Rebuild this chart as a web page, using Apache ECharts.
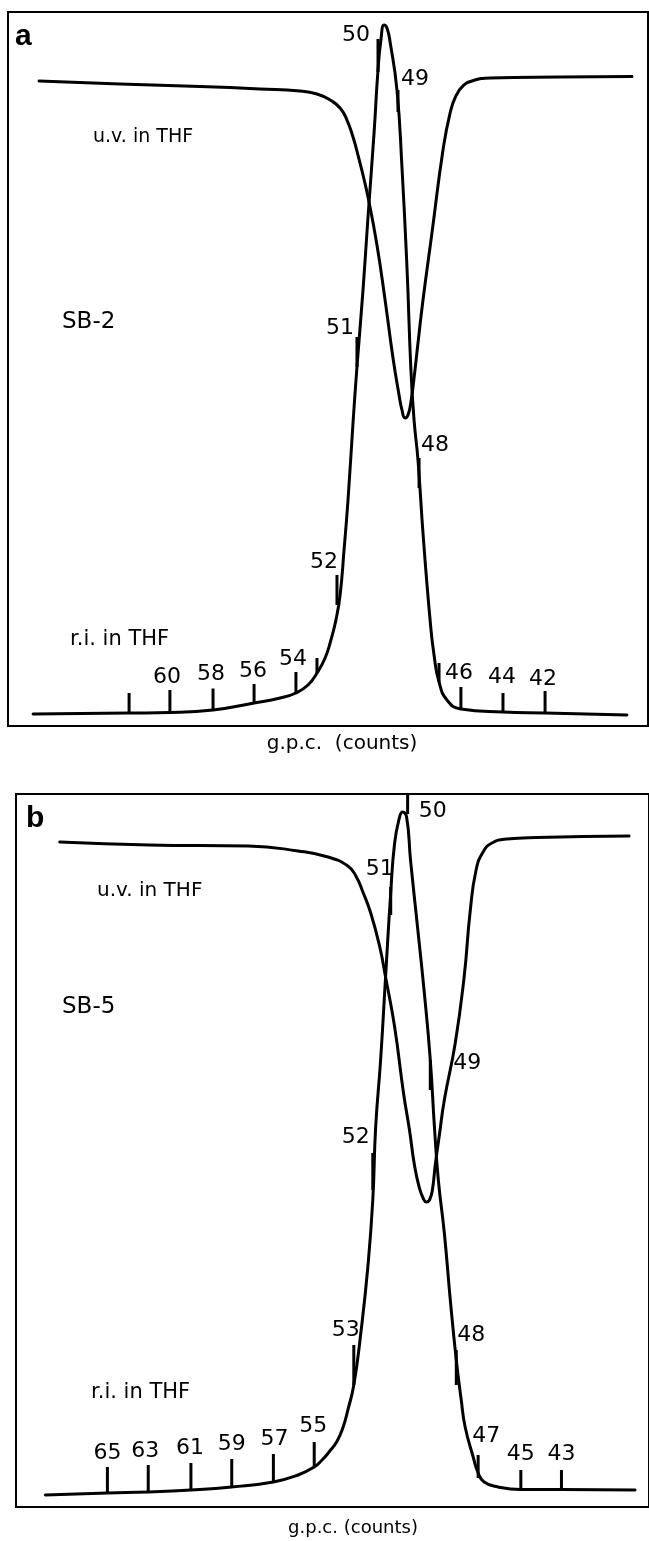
<!DOCTYPE html>
<html>
<head>
<meta charset="utf-8">
<script src="https://cdn.jsdelivr.net/npm/echarts@6/dist/echarts.min.js"></script>
<style>
html,body{margin:0;padding:0;background:#fff;}
#chart{width:649px;height:1541px;}
</style>
</head>
<body>
<div id="chart"></div>
<script>
// ---------- Panel a (SB-2) ----------
// [g.p.c. counts, response (arbitrary units)]
var riA = [[66.56,1.68],[61.95,1.82],[59.99,1.89],[57.92,2.24],[55.95,3.22],[54.70,3.92],[53.94,4.62],[53.36,5.74],[52.93,7.42],[52.54,9.52],[52.26,12.04],[52.02,14.85],[51.82,18.35],[51.63,24.65],[51.44,31.65],[51.20,42.44],[51.01,50.28],[50.72,61.06],[50.48,71.29],[50.19,83.05],[50.00,91.88],[49.86,96.08],[49.71,98.18],[49.57,97.76],[49.42,95.80],[49.09,89.08],[48.85,78.29],[48.61,64.29],[48.42,49.86],[48.27,42.86],[48.08,37.25],[47.84,27.03],[47.50,14.85],[47.31,9.94],[47.07,6.16],[46.69,3.64],[46.02,2.38],[44.00,1.96],[41.98,1.82],[38.05,1.54]];
var uvA = [[66.27,90.34],[62.39,89.92],[58.55,89.57],[55.67,89.22],[53.75,88.94],[52.93,88.52],[52.30,87.68],[51.82,86.55],[51.49,84.87],[51.20,82.49],[50.96,79.97],[50.72,77.17],[50.48,74.09],[50.05,67.37],[49.66,59.66],[49.28,51.54],[48.99,46.36],[48.85,44.26],[48.70,43.14],[48.56,43.56],[48.42,45.38],[48.27,48.74],[48.08,53.64],[47.84,59.66],[47.41,69.05],[46.88,80.67],[46.54,85.85],[46.26,88.24],[45.92,89.64],[45.49,90.34],[44.62,90.76],[41.26,90.90],[37.81,90.97]];
// count marks: [position (counts), response at curve, response at mark top]
var marksA = [[61.95,1.96,4.62],[59.99,1.89,5.04],[57.92,2.24,5.25],[55.95,3.22,5.88],[53.94,4.62,7.56],[52.93,7.42,9.52],[51.97,16.95,21.15],[51.01,50.28,54.48],[50.00,91.60,96.22],[49.04,86.00,89.08],[48.03,33.33,37.54],[47.07,6.16,8.82],[46.02,2.38,5.46],[44.00,1.96,4.62],[41.98,1.82,4.90]];
var markLabelsA = ['', '60', '58', '56', '54', '', '52', '51', '50', '49', '48', '', '46', '44', '42'];

// ---------- Panel b (SB-5) ----------
var riB = [[68.03,1.68],[65.02,1.96],[63.04,2.10],[60.97,2.38],[58.99,2.81],[56.97,3.51],[55.77,4.49],[54.99,5.61],[54.61,6.59],[54.27,7.71],[53.89,9.20],[53.60,11.10],[53.36,13.60],[53.07,17.11],[52.73,24.40],[52.39,33.66],[52.15,43.06],[52.01,53.30],[51.77,62.69],[51.53,74.33],[51.28,86.12],[51.09,93.13],[50.85,96.77],[50.71,97.48],[50.51,96.77],[50.32,90.74],[49.98,81.35],[49.65,72.09],[49.36,62.69],[49.16,53.30],[48.97,45.86],[48.68,38.43],[48.39,29.03],[48.10,20.62],[47.86,15.01],[47.67,11.22],[47.28,7.01],[47.04,4.77],[46.75,3.51],[46.08,2.81],[44.97,2.45],[43.00,2.45],[39.43,2.38]];
var uvB = [[67.33,93.27],[63.00,92.85],[58.18,92.71],[55.77,92.01],[54.32,91.16],[53.36,89.90],[52.97,88.50],[52.63,86.26],[52.25,83.31],[51.81,78.54],[51.53,74.33],[51.09,67.32],[50.66,58.06],[50.37,52.87],[50.13,47.97],[49.89,44.74],[49.69,43.20],[49.55,42.78],[49.40,43.06],[49.26,44.46],[49.12,47.97],[48.92,52.17],[48.68,57.08],[48.15,65.08],[47.72,74.33],[47.43,83.45],[47.14,89.34],[46.80,91.87],[46.37,93.13],[45.65,93.69],[44.20,93.90],[39.72,94.11]];
var marksB = [[65.02,1.96,5.61],[63.04,2.10,5.89],[60.97,2.38,6.17],[58.99,2.81,6.73],[56.97,3.51,7.43],[54.99,5.61,9.12],[53.07,17.11,22.72],[52.15,44.46,49.65],[51.28,83.03,86.96],[50.46,97.19,100.0],[49.36,58.49,62.69],[48.10,17.11,22.02],[47.04,4.07,7.29],[44.97,2.38,5.19],[43.00,2.45,5.19]];
var markLabelsB = ['65', '63', '61', '59', '57', '55', '53', '52', '51', '50', '49', '48', '47', '45', '43'];

// label offsets (px) from the top of each mark
var labelOffA = [[0,0],[-3,-13],[-2,-14],[-1,-13],[-3,-13],[0,0],[-13,-13],[-17,-9],[-22,-4],[17,-11],[16,-13],[0,0],[-2,-14],[-1,-16],[-2,-12]];
var labelOffB = [[0,-14],[-3,-14],[-1,-15],[0,-15],[1,-15],[-1,-16],[-8,-15],[-17,-16],[-11,-18],[25,17],[37,3],[15,-15],[8,-19],[0,-16],[0,-16]];

var FONT = '"DejaVu Sans", sans-serif';
var chart = echarts.init(document.getElementById('chart'), null, {renderer: 'canvas'});

function markSeries(idx, data, labels, offs) {
  return {
    type: 'custom', xAxisIndex: idx, yAxisIndex: idx, data: data, silent: true,
    renderItem: function (params, api) {
      var p1 = api.coord([api.value(0), api.value(1)]);
      var p2 = api.coord([api.value(0), api.value(2)]);
      var ch = [{type: 'line', shape: {x1: p1[0], y1: p1[1], x2: p2[0], y2: p2[1]},
                 style: {stroke: '#000', lineWidth: 3}}];
      var lab = labels[params.dataIndex];
      if (lab) {
        var o = offs[params.dataIndex];
        ch.push({type: 'text', x: p2[0] + o[0], y: p2[1] + o[1],
                 style: {text: lab, fill: '#000', fontSize: 22, fontFamily: FONT, align: 'center', verticalAlign: 'middle'}});
      }
      return {type: 'group', children: ch};
    }
  };
}
function curve(idx, data) {
  return {type: 'line', xAxisIndex: idx, yAxisIndex: idx, data: data, showSymbol: false, silent: true,
          smooth: 0.5, lineStyle: {color: '#000', width: 3, join: 'round', cap: 'round'}};
}
var hidden = {axisLine: {show: false}, axisTick: {show: false}, axisLabel: {show: false}, splitLine: {show: false}};

var txt = function (x, y, s, size, bold, align) {
  return {type: 'text', x: x, y: y, style: {text: s, fill: '#000', fontSize: size, fontWeight: bold ? 'bold' : 'normal',
          fontFamily: bold ? '"Liberation Sans", Arial, sans-serif' : FONT, align: align || 'left', verticalAlign: 'middle'}};
};

chart.setOption({
  animation: false,
  backgroundColor: '#fff',
  grid: [
    {left: 8, top: 12, width: 640, height: 714, show: true, borderColor: '#000', borderWidth: 2, backgroundColor: 'transparent'},
    {left: 16, top: 794, width: 637, height: 713, show: true, borderColor: '#000', borderWidth: 2, backgroundColor: 'transparent'}
  ],
  xAxis: [
    Object.assign({type: 'value', gridIndex: 0, inverse: true, min: 37.038, max: 67.763}, hidden),
    Object.assign({type: 'value', gridIndex: 1, inverse: true, min: 38.754, max: 69.453}, hidden)
  ],
  yAxis: [
    Object.assign({type: 'value', gridIndex: 0, min: 0, max: 100}, hidden),
    Object.assign({type: 'value', gridIndex: 1, min: 0, max: 100}, hidden)
  ],
  graphic: [
    txt(15, 37, 'a', 30, true),
    txt(93, 137, 'u.v. in THF', 19),
    txt(62, 322, 'SB-2', 23),
    txt(70, 640, 'r.i. in THF', 21),
    txt(342, 744, 'g.p.c.  (counts)', 20, false, 'center'),
    txt(26, 819, 'b', 30, true),
    txt(97, 891, 'u.v. in THF', 20),
    txt(62, 1007, 'SB-5', 23),
    txt(91, 1393, 'r.i. in THF', 21),
    txt(353, 1528, 'g.p.c. (counts)', 18, false, 'center')
  ],
  series: [
    curve(0, riA), curve(0, uvA), markSeries(0, marksA, markLabelsA, labelOffA),
    curve(1, riB), curve(1, uvB), markSeries(1, marksB, markLabelsB, labelOffB)
  ]
});
</script>
</body>
</html>
